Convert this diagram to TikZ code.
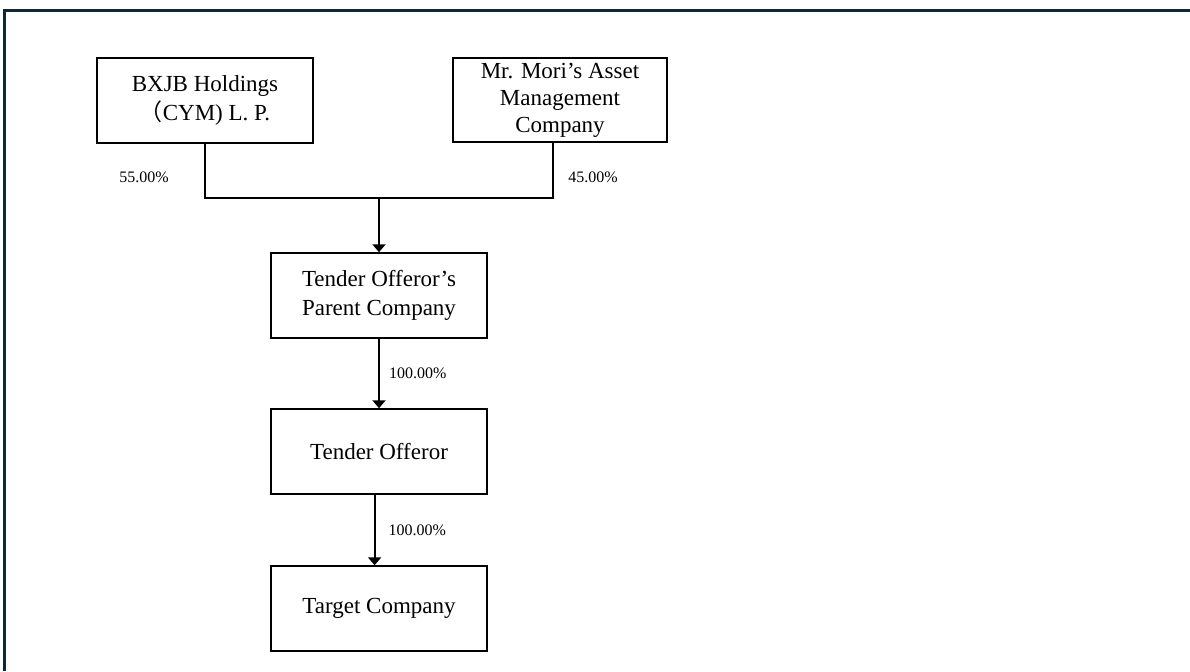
\documentclass[tikz,border=0pt]{standalone}
\usepackage{fontspec}
\setmainfont{Liberation Serif}
\newfontfamily\cjk{Noto Sans CJK JP}
\usepackage{xcolor}
\usetikzlibrary{positioning, calc, arrows.meta}
\definecolor{framenavy}{RGB}{14,40,56}

\begin{document}
\begin{tikzpicture}[
	firm/.style={rectangle, draw=black, line width=1pt, minimum height=42.5pt, minimum width=108pt, inner sep=0pt, align=center, font=\fontsize{11.5}{14.5}\selectfont},
	pct/.style={inner sep=0pt, font=\fontsize{8}{10}\selectfont},
	link/.style={line width=1pt},
	own/.style={line width=1pt, -{Triangle[length=4pt, width=6.5pt]}},
	]
		\useasboundingbox (0,0) rectangle (595pt,-335.5pt);

		%Frame
		\draw[framenavy, line width=1.5pt] (2.4pt,-335.5pt) -- (2.4pt,-5pt) -- (595pt,-5pt);

		%Nodes
		\node[firm]        (BXJB)      at (102.5pt,-50pt)      {BXJB Holdings\\{\cjk （}CYM) L. P.};
		\node[firm, minimum width=107pt, minimum height=42pt, font=\fontsize{11.5}{13.5}\selectfont]
		                   (Mori)      [right=69pt of BXJB]    {Mr. Mori's Asset\\Management\\Company};
		\coordinate (MoriFoot) at ([xshift=-3.5pt]Mori.south);
		\coordinate (Join) at ($(BXJB.south)!0.5!(MoriFoot)+(0,-27.5pt)$);
		\node[firm]        (Parent)    [below=27pt of Join]    {Tender Offeror's\\Parent Company};
		\node[firm]        (Tender)    [below=34.5pt of Parent] {Tender Offeror};
		\node[firm]        (Target)    [below=35pt of Tender]  {Target Company};

		%Lines
		\draw[link] (BXJB.south) |- (Join) -| (MoriFoot);
		\draw[own] (Join) -- (Parent);
		\draw[own] (Parent) -- node[pct, right=4.5pt] {100.00\%} (Tender);
		\draw[own] ([xshift=-2.2pt]Tender.south) -- node[pct, right=6.5pt] {100.00\%} ([xshift=-2.2pt]Target.north);

		%Shares
		\node[pct, left=18pt]  (ShareBXJB) at ([yshift=-17pt]BXJB.south) {55.00\%};
		\node[pct, right=7.5pt] (ShareMori) at ([yshift=-17pt]MoriFoot)  {45.00\%};
	\end{tikzpicture}
\end{document}
